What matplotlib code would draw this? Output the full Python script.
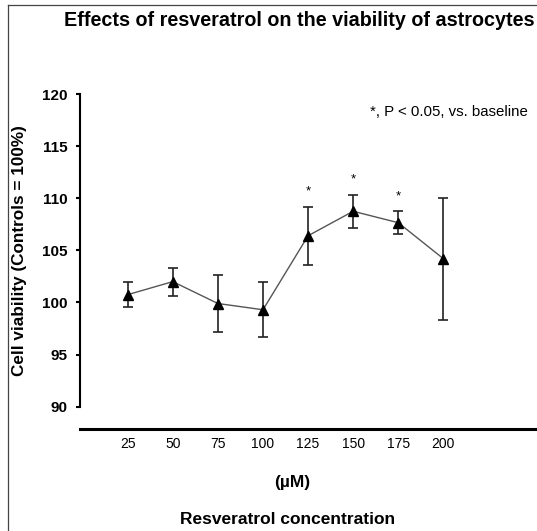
import matplotlib
matplotlib.use("Agg")
import matplotlib.pyplot as plt
from matplotlib.lines import Line2D

plt.rcParams["font.family"] = ["Liberation Sans", "DejaVu Sans"]

# data
concentration = [25, 50, 75, 100, 125, 150, 175, 200]
viability = [100.75, 102.0, 99.9, 99.3, 106.4, 108.75, 107.65, 104.2]
sem = [1.2, 1.35, 2.7, 2.65, 2.8, 1.6, 1.1, 5.85]
significant = [False, False, False, False, True, True, True, False]
tick_labels = ["25", "50", "75", "100", "125", "150", "175", "200"]

W, H = 537, 531
fig = plt.figure(figsize=(W / 100, H / 100), dpi=100)
fig.patch.set_facecolor("white")

# frame lines (left and top of the cropped picture)
fig.add_artist(Line2D([8 / W, 8 / W], [0, 1 - 4.5 / H], color="#444444", lw=0.9))
fig.add_artist(Line2D([8 / W, 1], [1 - 4.5 / H, 1 - 4.5 / H], color="#444444", lw=0.9))

ax = fig.add_axes([80 / W, 1 - 406.7 / H, (535 - 80) / W, (406.7 - 94) / H])

ax.plot(concentration, viability, color="#555555", lw=1.0, zorder=2)
ax.errorbar(concentration, viability, yerr=sem, fmt="none", ecolor="#222222",
            elinewidth=1.2, capsize=3.6, capthick=1.2, zorder=3)
ax.plot(concentration, viability, "^", color="black", ms=7, zorder=4)

for x, y, e, s in zip(concentration, viability, sem, significant):
    if s:
        ax.annotate("*", (x, y + e), xytext=(0, 11), textcoords="offset points",
                    ha="center", va="center", fontsize=9.5)

ax.set_xlim(-1.45, 250.8)
ax.set_ylim(90, 120)
ax.set_yticks([90, 95, 100, 105, 110, 115, 120])
ax.set_xticks(concentration)
ax.set_xticklabels(tick_labels)

for lab in ax.get_xticklabels() + ax.get_yticklabels():
    lab.set_fontweight("bold")
ax.tick_params(axis="y", length=3, width=1.5, pad=6, labelsize=11)
ax.tick_params(axis="x", length=0, pad=5.5, labelsize=10)

ax.spines["top"].set_visible(False)
ax.spines["right"].set_visible(False)
ax.spines["left"].set_linewidth(1.5)
ax.spines["bottom"].set_linewidth(2.2)
ax.spines["bottom"].set_position(("outward", 16.3))

fig.text(299.5 / W, 1 - 21 / H, "Effects of resveratrol on the viability of astrocytes",
         ha="center", va="center", fontsize=14.2, fontweight="bold")
fig.text(449 / W, 1 - 112 / H, "*, P < 0.05, vs. baseline",
         ha="center", va="center", fontsize=10.8)
fig.text(20 / W, 1 - 251 / H, "Cell viability (Controls = 100%)",
         rotation=90, ha="center", va="center", fontsize=12.3, fontweight="bold")
fig.text(292.5 / W, 1 - 482 / H, "(\u00b5M)", ha="center", va="center",
         fontsize=12.5, fontweight="bold")
fig.text(287.5 / W, 1 - 520 / H, "Resveratrol concentration", ha="center", va="center",
         fontsize=12.5, fontweight="bold")

fig.savefig("out.png", dpi=100)
